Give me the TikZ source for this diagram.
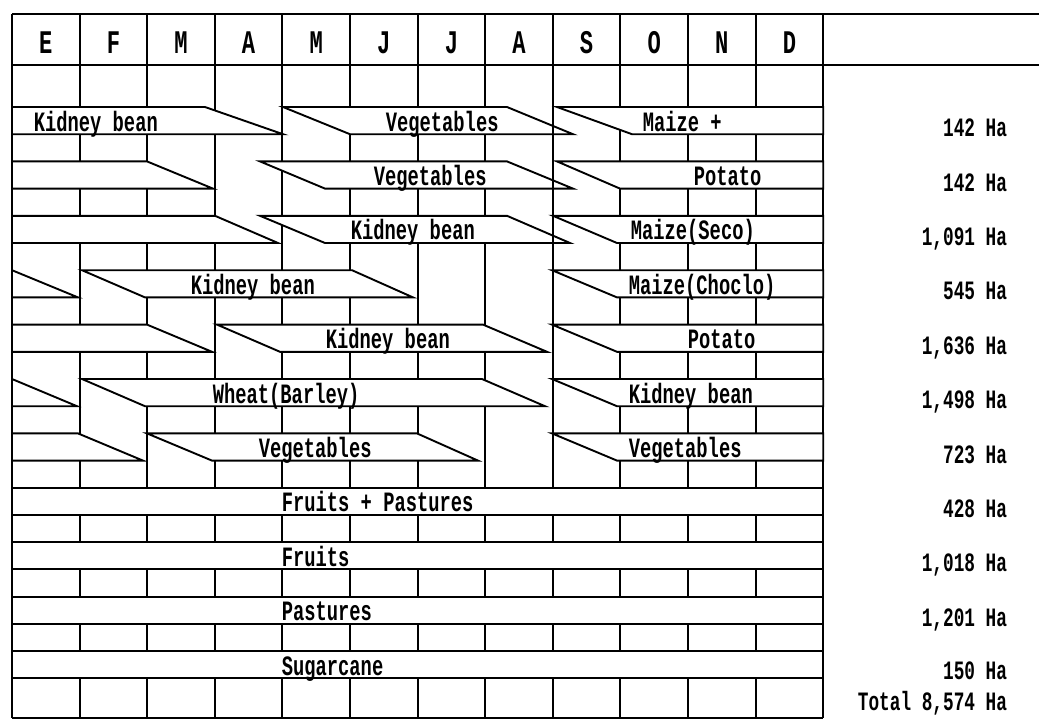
\documentclass[tikz,border=0pt]{standalone}
\usepackage{fontspec}
\newfontfamily\chartfont[FakeStretch=0.67]{Liberation Mono}
\begin{document}
\begin{tikzpicture}[x=1pt,y=-1pt,line width=1.9pt,
	crop/.style={draw,fill=white},
	lbl/.style={anchor=base west,inner sep=0pt,font=\chartfont\bfseries\fontsize{28}{30}\selectfont},
	area/.style={anchor=base east,inner sep=0pt,font=\chartfont\bfseries\fontsize{26.5}{28}\selectfont},
	month/.style={anchor=base,inner sep=0pt,font=\chartfont\bfseries\fontsize{33}{35}\selectfont}]
	\useasboundingbox (0,0) rectangle (1039,721);
	% khung tiêu đề
	\draw (12,14) -- (1039,14);
	\draw (12,65) -- (1039,65);
	\foreach \m [count=\i from 0] in {E,F,M,A,M,J,J,A,S,O,N,D} {
		\node[month] (mon\i) at ({45.8+67.6*\i},53) {\m};
	}
	% các cột tháng
	\foreach \i in {0,...,12} {
		\draw ({12+67.6*\i},14) -- ({12+67.6*\i},718);
	}
	% cây ngắn ngày (hàng/trên trái/trên phải/dưới trái/dưới phải)
	\foreach \r/\a/\b/\c/\d in {0/12/205/12/283, 0/283/507/350/573, 0/557/823.2/632/823.2,
		1/12/147/12/213, 1/260/507/325/573, 1/557/823.2/620/823.2,
		2/12/215/12/278, 2/260/507/325/570, 2/553/823.2/617/823.2,
		3/12/12/12/78, 3/82/352/145/413, 3/552/823.2/617/823.2,
		4/12/147/12/212, 4/217/483/280/547, 4/552/823.2/617/823.2,
		5/12/12/12/77, 5/82/482/145/545, 5/552/823.2/617/823.2,
		6/12/78/12/143, 6/147/417/212/478, 6/552/823.2/617/823.2} {
		\draw[crop] (\a,{107+54.4*\r}) -- (\b,{107+54.4*\r}) -- (\d,{134.2+54.4*\r}) -- (\c,{134.2+54.4*\r}) -- cycle;
	}
	% cây lâu năm
	\foreach \r in {7,...,10} {
		\draw[crop] (12,{107+54.4*\r}) rectangle (823.2,{134.2+54.4*\r});
	}
	% đường tháng 9
	\draw (552.8,14) -- (552.8,487.8);
	\draw (12,718) -- (823.2,718);
	% tên cây
	\foreach \r/\x/\t [count=\k] in {0/33/Kidney bean, 0/385/Vegetables, 0/642/Maize +,
		1/373/Vegetables, 1/693/Potato,
		2/350/Kidney bean, 2/630/Maize(Seco),
		3/190/Kidney bean, 3/628/Maize(Choclo),
		4/325/Kidney bean, 4/687/Potato,
		5/212/Wheat(Barley), 5/628/Kidney bean,
		6/258/Vegetables, 6/628/Vegetables,
		7/281/Fruits + Pastures, 8/281/Fruits, 9/281/Pastures, 10/281/Sugarcane} {
		\node[lbl] (crop\k) at (\x,{131+54.4*\r}) {\t};
	}
	% diện tích
	\foreach \r/\t [count=\k] in {0/142 Ha, 1/142 Ha, 2/{1,091 Ha}, 3/545 Ha, 4/{1,636 Ha},
		5/{1,498 Ha}, 6/723 Ha, 7/428 Ha, 8/{1,018 Ha}, 9/{1,201 Ha}} {
		\node[area] (ha\k) at (1008,{136.7+54.4*\r}) {\t};
	}
	\node[area] (ha11) at (1008,679) {150 Ha};
	\node[area] (total) at (1008,710) {Total 8,574 Ha};
\end{tikzpicture}
\end{document}
